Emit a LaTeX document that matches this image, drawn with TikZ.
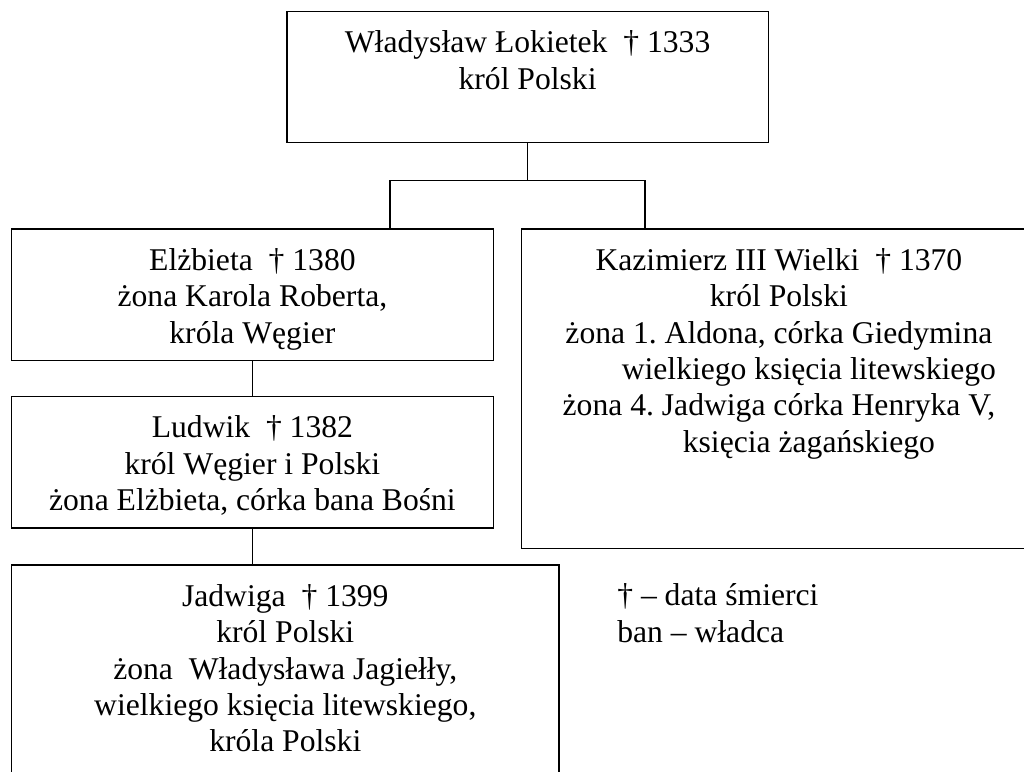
\documentclass[tikz,border=0pt]{standalone}
\usepackage{fontspec}
\setmainfont{Liberation Serif}
\usetikzlibrary{positioning}
\frenchspacing

\begin{document}
\begin{tikzpicture}[
    box/.style = {
      draw,
      line width = 1pt,
      anchor = north west,
      inner sep = 0pt,
      outer sep = 0pt
    },
    txt/.style = {
      inner sep = 0pt,
      align = center,
      font = \fontsize{22.5pt}{25.9pt}\selectfont
    },
    link/.style = {line width = 1pt},
    thinlink/.style = {line width = 0.7pt}
  ]
  \useasboundingbox (0,0) rectangle (25.6,-19.275);
  % boxes
  \node[box, minimum width = 12.03cm, minimum height = 3.275cm] (wlad) at (7.175,-0.2925) {};
  \node[box, minimum width = 12.045cm, minimum height = 3.2925cm] (elz) at (0.2875,-5.725) {};
  \node[box, minimum width = 12.86cm, minimum height = 7.99cm] (kaz) at (13.0425,-5.725) {};
  \node[box, minimum width = 12.045cm, minimum height = 3.2775cm] (lud) at (0.2875,-9.9175) {};
  \node[box, minimum width = 13.69cm, minimum height = 5.9cm] (jad) at (0.2875,-14.125) {};
  % texts
  \node[txt, below = 0.475cm of wlad.north] (wlad-t)
    {Władysław Łokietek \ † 1333\\król Polski};
  \node[txt, below = 0.475cm of elz.north] (elz-t)
    {Elżbieta \ † 1380\\żona Karola Roberta,\\króla Węgier};
  \node[txt, below = 0.475cm of kaz.north] (kaz-t)
    {Kazimierz III Wielki \ † 1370\\król Polski\\żona 1. Aldona, córka Giedymina\\
     \hspace*{1.5cm}wielkiego księcia litewskiego\\żona 4. Jadwiga córka Henryka V,\\
     \hspace*{1.5cm}księcia żagańskiego};
  \node[txt, below = 0.475cm of lud.north] (lud-t)
    {Ludwik \ † 1382\\król Węgier i Polski\\żona Elżbieta, córka bana Bośni};
  \node[txt, below = 0.475cm of jad.north] (jad-t)
    {Jadwiga \ † 1399\\król Polski\\żona \ Władysława Jagiełły,\\
     wielkiego księcia litewskiego,\\króla Polski};
  \node[txt, align = left, anchor = north west] (legend) at (15.425,-14.585)
    {† – data śmierci\\ban – władca};
  % connectors
  \coordinate (forkL) at (9.75,-4.5175);
  \coordinate (forkR) at (16.125,-4.5175);
  \draw[link] (wlad.south) -- (wlad.south |- forkL);
  \draw[link] (elz.north -| forkL) -- (forkL) -- (forkR) -- (kaz.north -| forkR);
  \draw[thinlink] (elz.south) -- (lud.north);
  \draw[thinlink] (lud.south) -- (lud.south |- jad.north);
\end{tikzpicture}
\end{document}
